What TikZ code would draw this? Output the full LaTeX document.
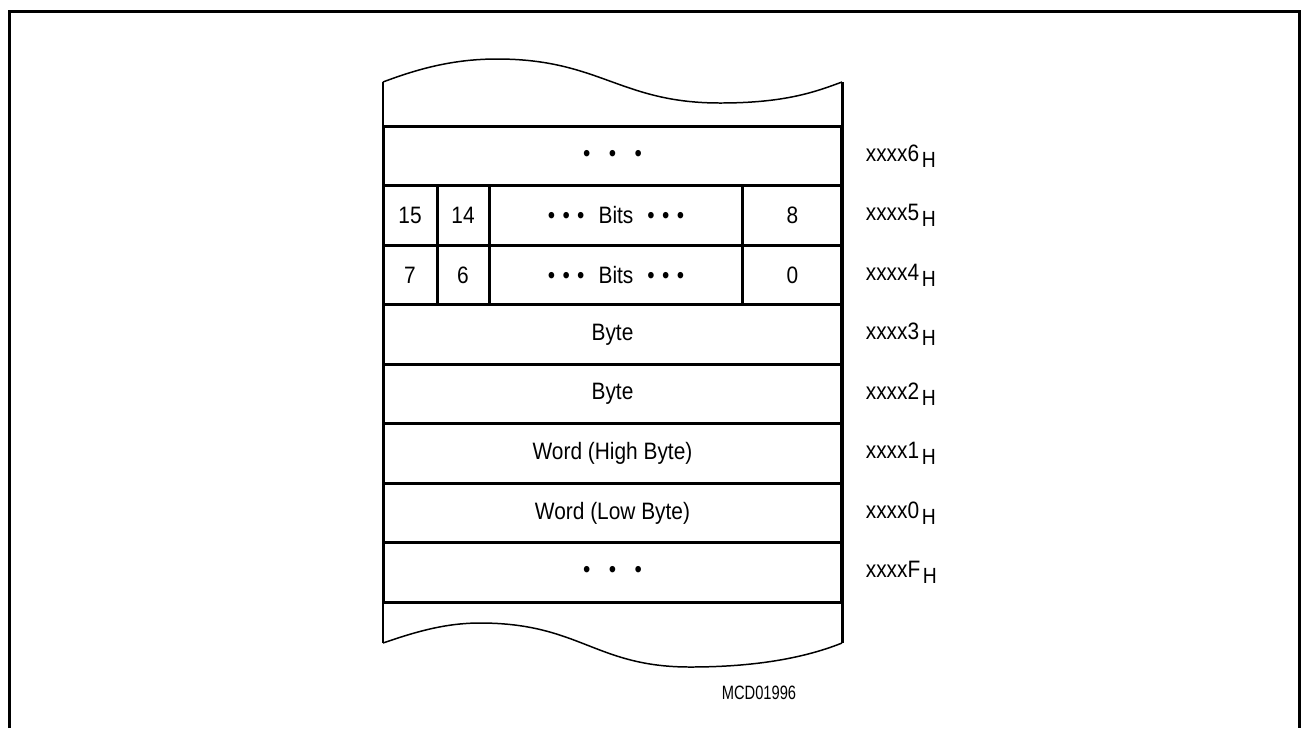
\documentclass[tikz,border=0pt]{standalone}
\usepackage{fontspec}
\setmainfont[FakeStretch=0.88]{Liberation Sans}
\newfontfamily\narrowfont[FakeStretch=0.76]{Liberation Sans}
\usetikzlibrary{positioning}
\tikzset{
	every node/.style={font=\fontsize{13.5pt}{16pt}\selectfont},
	row/.style={draw, line width=1.7pt, minimum width=9.18cm, minimum height=1.19cm, inner sep=0pt, outer sep=0pt},
	cell/.style={draw, line width=1.7pt, minimum height=1.19cm, inner sep=0pt, outer sep=0pt},
	addr/.style={anchor=west, inner sep=0pt},
	wave/.style={line width=0.85pt},
	wall/.style={line width=1.7pt},
	frame/.style={line width=1.7pt},
}
\newcommand\widedots{\textbullet\hspace{10.5pt}\textbullet\hspace{10.5pt}\textbullet}
\newcommand\bitdots{\textbullet\hspace{4.2pt}\textbullet\hspace{4.2pt}\textbullet}
\newcommand\hsub{\kern1.5pt\raisebox{-3.4pt}{\fontsize{12.5pt}{14pt}\selectfont H}}

\begin{document}
\begin{tikzpicture}[x=0.02cm, y=-0.02cm]
	\useasboundingbox (0,0) rectangle (1301,728);
	\draw[frame] (9.5,728) -- (9.5,11.5) -- (1299.5,11.5) -- (1299.5,728);

	% memory rows
	\node[row] (r6) at (612.5,156) {\widedots};
	\node[row, below=0pt of r6] (r5) {};
	\node[row, below=0pt of r5] (r4) {};
	\node[row, below=0pt of r4] (r3) {Byte};
	\node[row, below=0pt of r3] (r2) {Byte};
	\node[row, below=0pt of r2] (r1) {Word (High Byte)};
	\node[row, below=0pt of r1] (r0) {Word (Low Byte)};
	\node[row, below=0pt of r0] (rF) {\widedots};

	% bit cells
	\node[cell, minimum width=1.08cm, anchor=west] (b15) at (r5.west) {15};
	\node[cell, minimum width=1.04cm, right=0pt of b15] (b14) {14};
	\node[cell, minimum width=5.08cm, right=0pt of b14] (bhi) {\bitdots\hspace{8pt}Bits\hspace{8pt}\bitdots};
	\node[cell, minimum width=1.98cm, right=0pt of bhi] (b8) {8};
	\node[cell, minimum width=1.08cm, anchor=west] (b7) at (r4.west) {7};
	\node[cell, minimum width=1.04cm, right=0pt of b7] (b6) {6};
	\node[cell, minimum width=5.08cm, right=0pt of b6] (blo) {\bitdots\hspace{8pt}Bits\hspace{8pt}\bitdots};
	\node[cell, minimum width=1.98cm, right=0pt of blo] (b0) {0};

	% addresses
	\node[addr, right=0.47cm of r6] (a6) {xxxx6\hsub};
	\node[addr, right=0.47cm of r5] (a5) {xxxx5\hsub};
	\node[addr, right=0.47cm of r4] (a4) {xxxx4\hsub};
	\node[addr, right=0.47cm of r3] (a3) {xxxx3\hsub};
	\node[addr, right=0.47cm of r2] (a2) {xxxx2\hsub};
	\node[addr, right=0.47cm of r1] (a1) {xxxx1\hsub};
	\node[addr, right=0.47cm of r0] (a0) {xxxx0\hsub};
	\node[addr, right=0.47cm of rF] (aF) {xxxxF\hsub};

	% torn ends
	\coordinate (tl) at (383,82);
	\coordinate (tr) at (842,82);
	\coordinate (bl) at (383,643);
	\coordinate (br) at (842,643);
	\draw[wall] (tl) -- (bl);
	\draw[wall] (tr) -- (br);
	\draw[wave] (tl) .. controls (420,68) and (455,59) .. (497,59)
		.. controls (600,59) and (620,103) .. (720,103)
		.. controls (785,103) and (815,92) .. (tr);
	\draw[wave] (bl) .. controls (415,632) and (445,623) .. (480,623)
		.. controls (580,623) and (595,667) .. (690,667)
		.. controls (765,667) and (812,655) .. (br);

	\node[font={\fontsize{11pt}{13pt}\narrowfont}] (mcd) at (759,693) {MCD01996};
\end{tikzpicture}
\end{document}
